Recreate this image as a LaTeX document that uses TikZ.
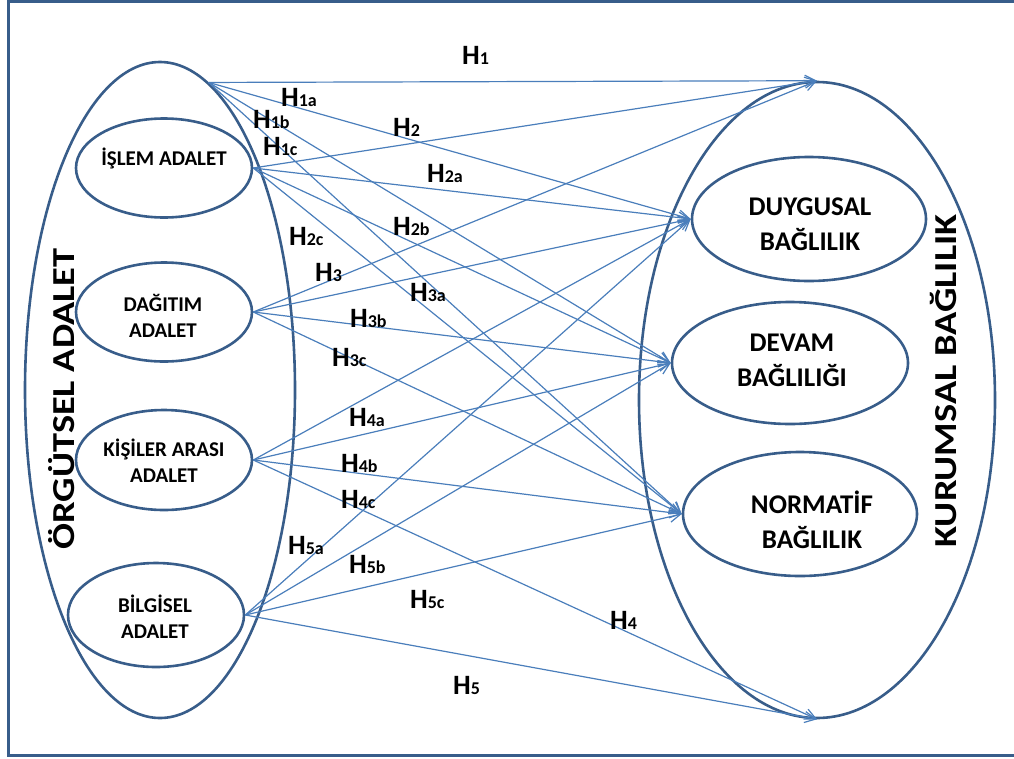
\documentclass[tikz,border=0pt]{standalone}
\usepackage{fontspec}
\setmainfont{Carlito}
\usetikzlibrary{shapes.geometric,arrows.meta}
\definecolor{rim}{HTML}{385D8A}
\definecolor{link}{HTML}{4A7EBB}
\newcommand{\hsub}[1]{{\fontsize{18}{18}\selectfont #1}}
\tikzset{
  bubble/.style={ellipse, draw=rim, line width=2.6pt, inner sep=0pt},
  conn/.style={draw=link, line width=1.2pt,
    -{Straight Barb[length=11pt,width=11pt,line width=1.2pt]}},
  hyp/.style={font=\fontsize{28}{28}\selectfont\bfseries, inner sep=0pt, anchor=base west},
  lefttext/.style={font=\fontsize{21}{26}\selectfont\bfseries, align=center, inner sep=0pt},
  righttext/.style={font=\fontsize{27}{35}\selectfont\bfseries, align=center, inner sep=0pt},
  title/.style={font=\fontsize{32}{32}\selectfont\bfseries, rotate=90, inner sep=0pt}
}
\begin{document}
\begin{tikzpicture}[x=1pt,y=-1pt]
\useasboundingbox (0,0) rectangle (1014,758);
% outer frame, its right side runs past the page edge
\begin{scope}
  \clip (0,0) rectangle (1014,758);
  \draw[rim, line width=3pt] (8,1.5) rectangle (1040,755);
\end{scope}

% the two construct ellipses
\node[bubble, minimum width=270pt, minimum height=656pt] (orgutsel) at (160,390) {};
\node[bubble, minimum width=356pt, minimum height=636pt] (kurumsal) at (817,400) {};

% justice dimensions
\node[bubble, minimum width=176pt, minimum height=99pt]  (islem)    at (164,168) {};
\node[bubble, minimum width=176pt, minimum height=99pt]  (dagitim)  at (164,312) {};
\node[bubble, minimum width=176pt, minimum height=100pt] (kisiler)  at (164,460) {};
\node[bubble, minimum width=176pt, minimum height=104pt] (bilgisel) at (156,615) {};

% commitment dimensions
\node[bubble, minimum width=234pt, minimum height=124pt] (duygusal) at (809,219) {};
\node[bubble, minimum width=236pt, minimum height=122pt] (devam)    at (790,363) {};
\node[bubble, minimum width=234pt, minimum height=124pt] (normatif) at (800,514) {};

% texts
\node[lefttext] (islemtxt)    at (164,158) {İŞLEM ADALET};
\node[lefttext] (dagitimtxt)  at (163,316) {DAĞITIM\\ADALET};
\node[lefttext] (kisilertxt)  at (164,461) {KİŞİLER ARASI\\ADALET};
\node[lefttext] (bilgiseltxt) at (155,617) {BİLGİSEL\\ADALET};
\node[righttext] (duygusaltxt) at (810,224) {DUYGUSAL\\BAĞLILIK};
\node[righttext] (devamtxt)    at (792,360) {DEVAM\\BAĞLILIĞI};
\node[righttext] (normatiftxt) at (812,520) {NORMATİF\\BAĞLILIK};
\node[title] (orgtitle) at (62,399) {\scalebox{1.2}[1]{ÖRGÜTSEL ADALET}};
\node[title] (kurtitle) at (943,381) {\scalebox{1.2}[1]{KURUMSAL BAĞLILIK}};

% hypothesised paths
\coordinate (top) at (orgutsel.81.7);
\draw[conn] (top) -- (kurumsal.north);
\draw[conn] (top) -- (duygusal.west);
\draw[conn] (top) -- (devam.west);
\draw[conn] (top) -- (normatif.west);
\foreach \src in {islem,dagitim}{
  \draw[conn] (\src.east) -- (kurumsal.north);
  \draw[conn] (\src.east) -- (duygusal.west);
  \draw[conn] (\src.east) -- (devam.west);
  \draw[conn] (\src.east) -- (normatif.west);
}
\foreach \src in {kisiler,bilgisel}{
  \draw[conn] (\src.east) -- (duygusal.west);
  \draw[conn] (\src.east) -- (devam.west);
  \draw[conn] (\src.east) -- (normatif.west);
  \draw[conn] (\src.east) -- (kurumsal.south);
}

% path labels
\node[hyp] (h1)  at (462,64)  {H\hsub{1}};
\node[hyp] (h1a) at (281,106) {H\hsub{1a}};
\node[hyp] (h1b) at (253,128) {H\hsub{1b}};
\node[hyp] (h1c) at (263,155) {H\hsub{1c}};
\node[hyp] (h2)  at (393,136) {H\hsub{2}};
\node[hyp] (h2a) at (427,182) {H\hsub{2a}};
\node[hyp] (h2b) at (393,235) {H\hsub{2b}};
\node[hyp] (h2c) at (289,245) {H\hsub{2c}};
\node[hyp] (h3)  at (315,281) {H\hsub{3}};
\node[hyp] (h3a) at (410,301) {H\hsub{3a}};
\node[hyp] (h3b) at (350,327) {H\hsub{3b}};
\node[hyp] (h3c) at (332,366) {H\hsub{3c}};
\node[hyp] (h4a) at (349,426) {H\hsub{4a}};
\node[hyp] (h4b) at (341,472) {H\hsub{4b}};
\node[hyp] (h4c) at (341,508) {H\hsub{4c}};
\node[hyp] (h5a) at (288,554) {H\hsub{5a}};
\node[hyp] (h5b) at (349,573) {H\hsub{5b}};
\node[hyp] (h5c) at (410,608) {H\hsub{5c}};
\node[hyp] (h4)  at (610,629) {H\hsub{4}};
\node[hyp] (h5)  at (453,694) {H\hsub{5}};
\end{tikzpicture}
\end{document}
